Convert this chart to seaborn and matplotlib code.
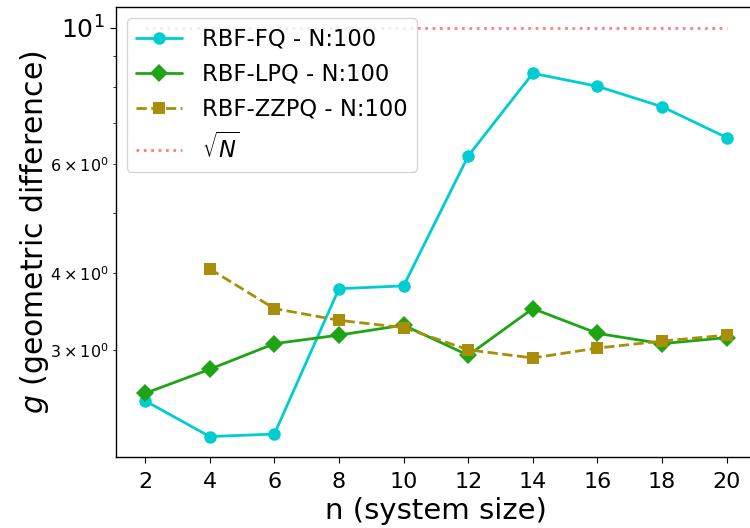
import matplotlib
matplotlib.use("Agg")
import matplotlib.pyplot as plt
import seaborn as sns
import pandas as pd

# System sizes and geometric-difference values per quantum kernel
n_fq = [2, 4, 6, 8, 10, 12, 14, 16, 18, 20]
g_fq = [2.48, 2.17, 2.19, 3.77, 3.81, 6.19, 8.43, 8.03, 7.44, 6.63]

n_lpq = [2, 4, 6, 8, 10, 12, 14, 16, 18, 20]
g_lpq = [2.55, 2.79, 3.07, 3.17, 3.29, 2.94, 3.50, 3.19, 3.07, 3.14]

n_zzpq = [4, 6, 8, 10, 12, 14, 16, 18, 20]
g_zzpq = [4.06, 3.50, 3.35, 3.26, 3.00, 2.91, 3.02, 3.10, 3.17]

# sqrt(N) reference with N = 100 training points
n_ref = [2, 20]
g_ref = [10.0, 10.0]

x_ticks = [2, 4, 6, 8, 10, 12, 14, 16, 18, 20]

sns.set_style("ticks", rc={
    "text.color": "black",
    "axes.labelcolor": "black",
    "axes.edgecolor": "black",
    "xtick.color": "black",
    "ytick.color": "black",
})

fig = plt.figure(figsize=(7.5, 5.28), dpi=100)
ax = fig.add_axes([0.1547, 0.1345, 0.853, 0.852])

sns.lineplot(x=n_fq, y=g_fq, ax=ax, color="#00cdd0", marker="o",
             markersize=9, markeredgewidth=0, linewidth=2,
             label="RBF-FQ - N:100")
sns.lineplot(x=n_lpq, y=g_lpq, ax=ax, color="#1fa514", marker="D",
             markersize=9, markeredgewidth=0, linewidth=2,
             label="RBF-LPQ - N:100")
sns.lineplot(x=n_zzpq, y=g_zzpq, ax=ax, color="#a98e0c", marker="s",
             markersize=9, markeredgewidth=0, linewidth=2, linestyle="--",
             label="RBF-ZZPQ - N:100")
sns.lineplot(x=n_ref, y=g_ref, ax=ax, color="red", alpha=0.5,
             linestyle=":", linewidth=2, label=r"$\sqrt{N}$")

ax.set_yscale("log")
ax.set_xticks(x_ticks)
ax.set_xlabel("n (system size)", fontsize=21)
ax.set_ylabel("$g$ (geometric difference)", fontsize=21.5, labelpad=-1)
ax.tick_params(axis="x", labelsize=16, length=4.5, pad=6)
ax.tick_params(axis="y", which="major", labelsize=18, length=4.5)
ax.tick_params(axis="y", which="minor", labelsize=11.5)

for s in ax.spines.values():
    s.set_linewidth(1.0)
    s.set_color("black")

ax.legend(loc="upper left", fontsize=16.3, labelspacing=0.53,
          handletextpad=0.9)

fig.savefig("out.png", dpi=100)
